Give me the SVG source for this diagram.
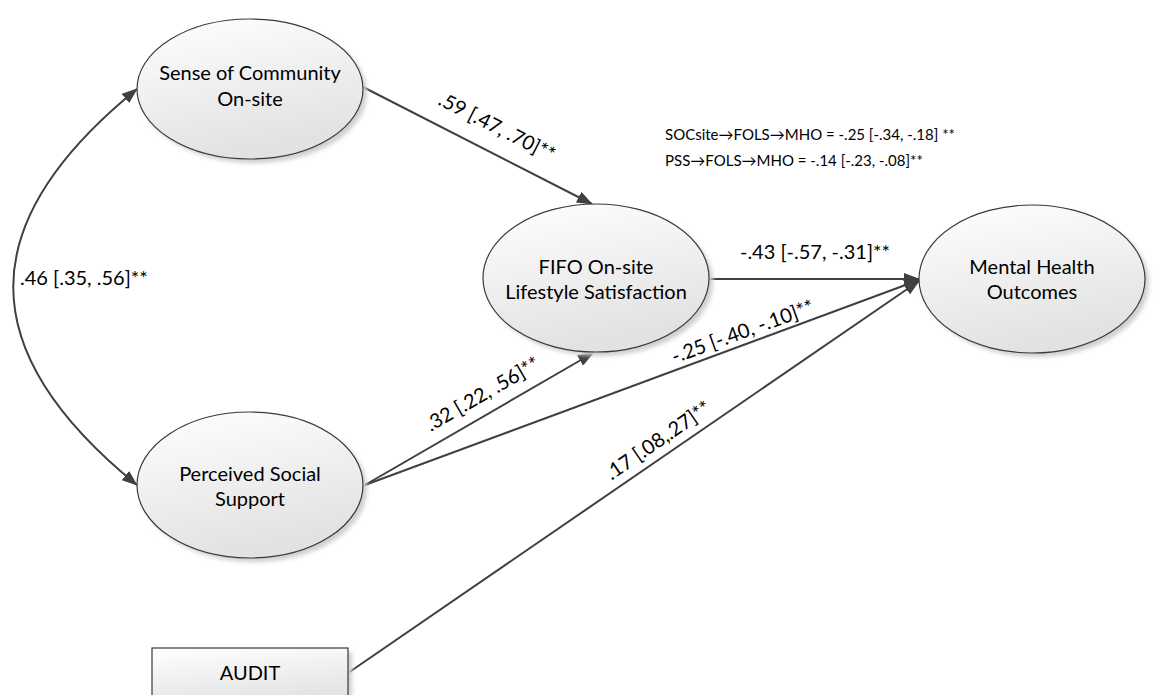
<svg xmlns="http://www.w3.org/2000/svg" width="1155" height="695" viewBox="0 0 1155 695">
<style>
.lbl{font-family:Lato,"Open Sans","Liberation Sans",sans-serif;font-size:20px;fill:#000}
.sm{font-family:Lato,"Open Sans","Liberation Sans",sans-serif;font-size:15px;fill:#000}
.node{fill:url(#g);stroke:#3a3a3a;stroke-width:1.2}
.sh{fill:#cfcfcf;filter:url(#blur)}
.edge{fill:none;stroke:#404040;stroke-width:2}
</style>
<defs>
<linearGradient id="g" x1="0" y1="0" x2="0.3" y2="1">
<stop offset="0" stop-color="#ffffff"/>
<stop offset="1" stop-color="#e2e2e2"/>
</linearGradient>
<filter id="blur" x="-20%" y="-20%" width="140%" height="140%"><feGaussianBlur stdDeviation="2"/></filter>
<marker id="ah" viewBox="0 0 16 12" refX="15" refY="6" markerWidth="16" markerHeight="12" markerUnits="userSpaceOnUse" orient="auto-start-reverse">
<path d="M0,0 L16,6 L0,12 Z" fill="#404040"/>
</marker>
</defs>
<rect width="1155" height="695" fill="#fff"/>

<g id="connectors">
<path class="edge" d="M137,89 C-28,223 -28,351 137,485" marker-start="url(#ah)" marker-end="url(#ah)"/>
<line class="edge" x1="363" y1="87" x2="592" y2="204" marker-end="url(#ah)"/>
<line class="edge" x1="709" y1="279" x2="919" y2="279" marker-end="url(#ah)"/>
<line class="edge" x1="365" y1="485" x2="593" y2="353" marker-end="url(#ah)"/>
<line class="edge" x1="365" y1="485" x2="919" y2="280" marker-end="url(#ah)"/>
<line class="edge" x1="348" y1="673" x2="919" y2="281" marker-end="url(#ah)"/>
<text class="lbl" x="20" y="285">.46 [.35, .56]**</text>
<text class="lbl" text-anchor="middle" transform="translate(494,133) rotate(27)">.59 [.47, .70]**</text>
<text class="lbl" x="815" y="259" text-anchor="middle">-.43 [-.57, -.31]**</text>
<text class="lbl" text-anchor="middle" transform="translate(486,400) rotate(-30)">.32 [.22, .56]**</text>
<text class="lbl" text-anchor="middle" transform="translate(745,338) rotate(-20)">-.25 [-.40, -.10]**</text>
<text class="lbl" text-anchor="middle" transform="translate(662,446) rotate(-34.5)">.17 [.08,.27]**</text>
<text class="sm" x="665" y="140">SOCsite→FOLS→MHO = -.25 [-.34, -.18] **</text>
<text class="sm" x="665" y="166">PSS→FOLS→MHO = -.14 [-.23, -.08]**</text>
</g>

<g id="soc">
<ellipse class="sh" cx="254" cy="93" rx="113" ry="70"/>
<ellipse class="node" cx="250" cy="89" rx="113" ry="70"/>
<text class="lbl" x="250" y="80" text-anchor="middle">Sense of Community</text>
<text class="lbl" x="250" y="106" text-anchor="middle">On-site</text>
</g>

<g id="pss">
<ellipse class="sh" cx="254" cy="489" rx="113" ry="73"/>
<ellipse class="node" cx="250" cy="485" rx="113" ry="73"/>
<text class="lbl" x="250" y="481" text-anchor="middle">Perceived Social</text>
<text class="lbl" x="250" y="506" text-anchor="middle">Support</text>
</g>

<g id="fols">
<ellipse class="sh" cx="600" cy="282" rx="113" ry="74"/>
<ellipse class="node" cx="596" cy="278" rx="113" ry="74"/>
<text class="lbl" x="596" y="274" text-anchor="middle">FIFO On-site</text>
<text class="lbl" x="596" y="299" text-anchor="middle">Lifestyle Satisfaction</text>
</g>

<g id="mho">
<ellipse class="sh" cx="1036" cy="283" rx="113" ry="74"/>
<ellipse class="node" cx="1032" cy="279" rx="113" ry="74"/>
<text class="lbl" x="1032" y="274" text-anchor="middle">Mental Health</text>
<text class="lbl" x="1032" y="299" text-anchor="middle">Outcomes</text>
</g>

<g id="audit">
<rect class="sh" x="156" y="652" width="196" height="60"/>
<rect class="node" x="152" y="648" width="196" height="60"/>
<text class="lbl" x="250" y="680" text-anchor="middle">AUDIT</text>
</g>
</svg>
